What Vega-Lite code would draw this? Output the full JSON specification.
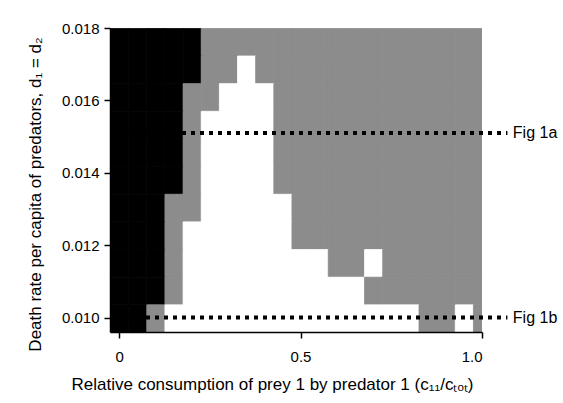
{
  "$schema": "https://vega.github.io/schema/vega-lite/v6.json",
  "width": 372,
  "height": 304,
  "autosize": {"type": "none"},
  "padding": {"left": 110, "top": 28, "right": 81, "bottom": 71},
  "background": "#ffffff",
  "config": {
    "font": "Liberation Sans",
    "view": {"stroke": null},
    "axis": {"grid": false, "domainColor": "#000000", "tickColor": "#000000", "labelColor": "#000000", "titleColor": "#000000", "labelFontSize": 15, "titleFontSize": 17, "titleFontWeight": "normal", "tickSize": 6, "domainWidth": 1.5, "tickWidth": 1.5}
  },
  "datasets": {
    "cells": [
      {"c":0,"d":0.01762,"s":"B"},{"c":0.05,"d":0.01762,"s":"B"},{"c":0.1,"d":0.01762,"s":"B"},{"c":0.15,"d":0.01762,"s":"B"},{"c":0.2,"d":0.01762,"s":"B"},{"c":0.25,"d":0.01762,"s":"G"},{"c":0.3,"d":0.01762,"s":"G"},{"c":0.35,"d":0.01762,"s":"G"},{"c":0.4,"d":0.01762,"s":"G"},{"c":0.45,"d":0.01762,"s":"G"},{"c":0.5,"d":0.01762,"s":"G"},{"c":0.55,"d":0.01762,"s":"G"},{"c":0.6,"d":0.01762,"s":"G"},{"c":0.65,"d":0.01762,"s":"G"},{"c":0.7,"d":0.01762,"s":"G"},{"c":0.75,"d":0.01762,"s":"G"},{"c":0.8,"d":0.01762,"s":"G"},{"c":0.85,"d":0.01762,"s":"G"},{"c":0.9,"d":0.01762,"s":"G"},{"c":0.95,"d":0.01762,"s":"G"},{"c":1,"d":0.01762,"s":"G"},
      {"c":0,"d":0.01686,"s":"B"},{"c":0.05,"d":0.01686,"s":"B"},{"c":0.1,"d":0.01686,"s":"B"},{"c":0.15,"d":0.01686,"s":"B"},{"c":0.2,"d":0.01686,"s":"B"},{"c":0.25,"d":0.01686,"s":"G"},{"c":0.3,"d":0.01686,"s":"G"},{"c":0.35,"d":0.01686,"s":"W"},{"c":0.4,"d":0.01686,"s":"G"},{"c":0.45,"d":0.01686,"s":"G"},{"c":0.5,"d":0.01686,"s":"G"},{"c":0.55,"d":0.01686,"s":"G"},{"c":0.6,"d":0.01686,"s":"G"},{"c":0.65,"d":0.01686,"s":"G"},{"c":0.7,"d":0.01686,"s":"G"},{"c":0.75,"d":0.01686,"s":"G"},{"c":0.8,"d":0.01686,"s":"G"},{"c":0.85,"d":0.01686,"s":"G"},{"c":0.9,"d":0.01686,"s":"G"},{"c":0.95,"d":0.01686,"s":"G"},{"c":1,"d":0.01686,"s":"G"},
      {"c":0,"d":0.01609,"s":"B"},{"c":0.05,"d":0.01609,"s":"B"},{"c":0.1,"d":0.01609,"s":"B"},{"c":0.15,"d":0.01609,"s":"B"},{"c":0.2,"d":0.01609,"s":"G"},{"c":0.25,"d":0.01609,"s":"G"},{"c":0.3,"d":0.01609,"s":"W"},{"c":0.35,"d":0.01609,"s":"W"},{"c":0.4,"d":0.01609,"s":"W"},{"c":0.45,"d":0.01609,"s":"G"},{"c":0.5,"d":0.01609,"s":"G"},{"c":0.55,"d":0.01609,"s":"G"},{"c":0.6,"d":0.01609,"s":"G"},{"c":0.65,"d":0.01609,"s":"G"},{"c":0.7,"d":0.01609,"s":"G"},{"c":0.75,"d":0.01609,"s":"G"},{"c":0.8,"d":0.01609,"s":"G"},{"c":0.85,"d":0.01609,"s":"G"},{"c":0.9,"d":0.01609,"s":"G"},{"c":0.95,"d":0.01609,"s":"G"},{"c":1,"d":0.01609,"s":"G"},
      {"c":0,"d":0.01533,"s":"B"},{"c":0.05,"d":0.01533,"s":"B"},{"c":0.1,"d":0.01533,"s":"B"},{"c":0.15,"d":0.01533,"s":"B"},{"c":0.2,"d":0.01533,"s":"G"},{"c":0.25,"d":0.01533,"s":"W"},{"c":0.3,"d":0.01533,"s":"W"},{"c":0.35,"d":0.01533,"s":"W"},{"c":0.4,"d":0.01533,"s":"W"},{"c":0.45,"d":0.01533,"s":"G"},{"c":0.5,"d":0.01533,"s":"G"},{"c":0.55,"d":0.01533,"s":"G"},{"c":0.6,"d":0.01533,"s":"G"},{"c":0.65,"d":0.01533,"s":"G"},{"c":0.7,"d":0.01533,"s":"G"},{"c":0.75,"d":0.01533,"s":"G"},{"c":0.8,"d":0.01533,"s":"G"},{"c":0.85,"d":0.01533,"s":"G"},{"c":0.9,"d":0.01533,"s":"G"},{"c":0.95,"d":0.01533,"s":"G"},{"c":1,"d":0.01533,"s":"G"},
      {"c":0,"d":0.01457,"s":"B"},{"c":0.05,"d":0.01457,"s":"B"},{"c":0.1,"d":0.01457,"s":"B"},{"c":0.15,"d":0.01457,"s":"B"},{"c":0.2,"d":0.01457,"s":"G"},{"c":0.25,"d":0.01457,"s":"W"},{"c":0.3,"d":0.01457,"s":"W"},{"c":0.35,"d":0.01457,"s":"W"},{"c":0.4,"d":0.01457,"s":"W"},{"c":0.45,"d":0.01457,"s":"G"},{"c":0.5,"d":0.01457,"s":"G"},{"c":0.55,"d":0.01457,"s":"G"},{"c":0.6,"d":0.01457,"s":"G"},{"c":0.65,"d":0.01457,"s":"G"},{"c":0.7,"d":0.01457,"s":"G"},{"c":0.75,"d":0.01457,"s":"G"},{"c":0.8,"d":0.01457,"s":"G"},{"c":0.85,"d":0.01457,"s":"G"},{"c":0.9,"d":0.01457,"s":"G"},{"c":0.95,"d":0.01457,"s":"G"},{"c":1,"d":0.01457,"s":"G"},
      {"c":0,"d":0.0138,"s":"B"},{"c":0.05,"d":0.0138,"s":"B"},{"c":0.1,"d":0.0138,"s":"B"},{"c":0.15,"d":0.0138,"s":"B"},{"c":0.2,"d":0.0138,"s":"G"},{"c":0.25,"d":0.0138,"s":"W"},{"c":0.3,"d":0.0138,"s":"W"},{"c":0.35,"d":0.0138,"s":"W"},{"c":0.4,"d":0.0138,"s":"W"},{"c":0.45,"d":0.0138,"s":"G"},{"c":0.5,"d":0.0138,"s":"G"},{"c":0.55,"d":0.0138,"s":"G"},{"c":0.6,"d":0.0138,"s":"G"},{"c":0.65,"d":0.0138,"s":"G"},{"c":0.7,"d":0.0138,"s":"G"},{"c":0.75,"d":0.0138,"s":"G"},{"c":0.8,"d":0.0138,"s":"G"},{"c":0.85,"d":0.0138,"s":"G"},{"c":0.9,"d":0.0138,"s":"G"},{"c":0.95,"d":0.0138,"s":"G"},{"c":1,"d":0.0138,"s":"G"},
      {"c":0,"d":0.01304,"s":"B"},{"c":0.05,"d":0.01304,"s":"B"},{"c":0.1,"d":0.01304,"s":"B"},{"c":0.15,"d":0.01304,"s":"G"},{"c":0.2,"d":0.01304,"s":"G"},{"c":0.25,"d":0.01304,"s":"W"},{"c":0.3,"d":0.01304,"s":"W"},{"c":0.35,"d":0.01304,"s":"W"},{"c":0.4,"d":0.01304,"s":"W"},{"c":0.45,"d":0.01304,"s":"W"},{"c":0.5,"d":0.01304,"s":"G"},{"c":0.55,"d":0.01304,"s":"G"},{"c":0.6,"d":0.01304,"s":"G"},{"c":0.65,"d":0.01304,"s":"G"},{"c":0.7,"d":0.01304,"s":"G"},{"c":0.75,"d":0.01304,"s":"G"},{"c":0.8,"d":0.01304,"s":"G"},{"c":0.85,"d":0.01304,"s":"G"},{"c":0.9,"d":0.01304,"s":"G"},{"c":0.95,"d":0.01304,"s":"G"},{"c":1,"d":0.01304,"s":"G"},
      {"c":0,"d":0.01227,"s":"B"},{"c":0.05,"d":0.01227,"s":"B"},{"c":0.1,"d":0.01227,"s":"B"},{"c":0.15,"d":0.01227,"s":"G"},{"c":0.2,"d":0.01227,"s":"W"},{"c":0.25,"d":0.01227,"s":"W"},{"c":0.3,"d":0.01227,"s":"W"},{"c":0.35,"d":0.01227,"s":"W"},{"c":0.4,"d":0.01227,"s":"W"},{"c":0.45,"d":0.01227,"s":"W"},{"c":0.5,"d":0.01227,"s":"G"},{"c":0.55,"d":0.01227,"s":"G"},{"c":0.6,"d":0.01227,"s":"G"},{"c":0.65,"d":0.01227,"s":"G"},{"c":0.7,"d":0.01227,"s":"G"},{"c":0.75,"d":0.01227,"s":"G"},{"c":0.8,"d":0.01227,"s":"G"},{"c":0.85,"d":0.01227,"s":"G"},{"c":0.9,"d":0.01227,"s":"G"},{"c":0.95,"d":0.01227,"s":"G"},{"c":1,"d":0.01227,"s":"G"},
      {"c":0,"d":0.01151,"s":"B"},{"c":0.05,"d":0.01151,"s":"B"},{"c":0.1,"d":0.01151,"s":"B"},{"c":0.15,"d":0.01151,"s":"G"},{"c":0.2,"d":0.01151,"s":"W"},{"c":0.25,"d":0.01151,"s":"W"},{"c":0.3,"d":0.01151,"s":"W"},{"c":0.35,"d":0.01151,"s":"W"},{"c":0.4,"d":0.01151,"s":"W"},{"c":0.45,"d":0.01151,"s":"W"},{"c":0.5,"d":0.01151,"s":"W"},{"c":0.55,"d":0.01151,"s":"W"},{"c":0.6,"d":0.01151,"s":"G"},{"c":0.65,"d":0.01151,"s":"G"},{"c":0.7,"d":0.01151,"s":"W"},{"c":0.75,"d":0.01151,"s":"G"},{"c":0.8,"d":0.01151,"s":"G"},{"c":0.85,"d":0.01151,"s":"G"},{"c":0.9,"d":0.01151,"s":"G"},{"c":0.95,"d":0.01151,"s":"G"},{"c":1,"d":0.01151,"s":"G"},
      {"c":0,"d":0.01075,"s":"B"},{"c":0.05,"d":0.01075,"s":"B"},{"c":0.1,"d":0.01075,"s":"B"},{"c":0.15,"d":0.01075,"s":"G"},{"c":0.2,"d":0.01075,"s":"W"},{"c":0.25,"d":0.01075,"s":"W"},{"c":0.3,"d":0.01075,"s":"W"},{"c":0.35,"d":0.01075,"s":"W"},{"c":0.4,"d":0.01075,"s":"W"},{"c":0.45,"d":0.01075,"s":"W"},{"c":0.5,"d":0.01075,"s":"W"},{"c":0.55,"d":0.01075,"s":"W"},{"c":0.6,"d":0.01075,"s":"W"},{"c":0.65,"d":0.01075,"s":"W"},{"c":0.7,"d":0.01075,"s":"G"},{"c":0.75,"d":0.01075,"s":"G"},{"c":0.8,"d":0.01075,"s":"G"},{"c":0.85,"d":0.01075,"s":"G"},{"c":0.9,"d":0.01075,"s":"G"},{"c":0.95,"d":0.01075,"s":"G"},{"c":1,"d":0.01075,"s":"G"},
      {"c":0,"d":0.00998,"s":"B"},{"c":0.05,"d":0.00998,"s":"B"},{"c":0.1,"d":0.00998,"s":"G"},{"c":0.15,"d":0.00998,"s":"W"},{"c":0.2,"d":0.00998,"s":"W"},{"c":0.25,"d":0.00998,"s":"W"},{"c":0.3,"d":0.00998,"s":"W"},{"c":0.35,"d":0.00998,"s":"W"},{"c":0.4,"d":0.00998,"s":"W"},{"c":0.45,"d":0.00998,"s":"W"},{"c":0.5,"d":0.00998,"s":"W"},{"c":0.55,"d":0.00998,"s":"W"},{"c":0.6,"d":0.00998,"s":"W"},{"c":0.65,"d":0.00998,"s":"W"},{"c":0.7,"d":0.00998,"s":"W"},{"c":0.75,"d":0.00998,"s":"W"},{"c":0.8,"d":0.00998,"s":"W"},{"c":0.85,"d":0.00998,"s":"G"},{"c":0.9,"d":0.00998,"s":"G"},{"c":0.95,"d":0.00998,"s":"W"},{"c":1,"d":0.00998,"s":"G"}
    ],
    "lines": [
      {"label": "Fig 1a", "d": 0.0151},
      {"label": "Fig 1b", "d": 0.0100}
    ]
  },
  "layer": [
    {
      "data": {"name": "cells"},
      "mark": {"type": "rect", "clip": true, "binSpacing": 0, "strokeWidth": 0.8},
      "encoding": {
        "x": {"field": "c", "type": "quantitative", "bin": {"extent": [-0.025, 1.025], "step": 0.05, "nice": false},
              "scale": {"domain": [-0.025, 1.0], "nice": false, "zero": false},
              "axis": {"values": [0, 0.5, 1], "labelExpr": "datum.value == 0 ? '0' : datum.value == 1 ? '1.0' : '0.5'", "labelPadding": 11, "titlePadding": 12, "titleX": 162, "titleAlign": "center"},
              "title": "Relative consumption of prey 1 by predator 1 (c₁₁/cₜₒₜ)"},
        "y": {"field": "d", "type": "quantitative", "bin": {"extent": [0.0096, 0.018004], "step": 0.000764, "nice": false},
              "scale": {"domain": [0.0096, 0.018], "nice": false, "zero": false},
              "axis": {"values": [0.010, 0.012, 0.014, 0.016, 0.018], "format": ".3f", "labelPadding": 5, "titlePadding": 17, "titleY": 166, "titleAlign": "center"},
              "title": "Death rate per capita of predators, d₁ = d₂"},
        "color": {"field": "s", "type": "nominal", "scale": {"domain": ["B", "G", "W"], "range": ["#000000", "#8c8c8c", "#ffffff"]}, "legend": null},
        "stroke": {"field": "s", "type": "nominal", "scale": {"domain": ["B", "G", "W"], "range": ["#000000", "#8c8c8c", "#ffffff"]}, "legend": null}
      }
    },
    {
      "data": {"name": "lines"},
      "mark": {"type": "rule", "strokeDash": [4, 5], "strokeWidth": 4, "color": "#000000", "clip": false},
      "encoding": {
        "x": {"datum": -0.025},
        "x2": {"datum": 1.07},
        "y": {"field": "d", "type": "quantitative", "title": "Death rate per capita of predators, d₁ = d₂"}
      }
    },
    {
      "data": {"name": "lines"},
      "mark": {"type": "text", "align": "left", "baseline": "middle", "fontSize": 16, "color": "#000000", "clip": false},
      "encoding": {
        "x": {"datum": 1.085},
        "y": {"field": "d", "type": "quantitative", "title": "Death rate per capita of predators, d₁ = d₂"},
        "text": {"field": "label"}
      }
    }
  ]
}
